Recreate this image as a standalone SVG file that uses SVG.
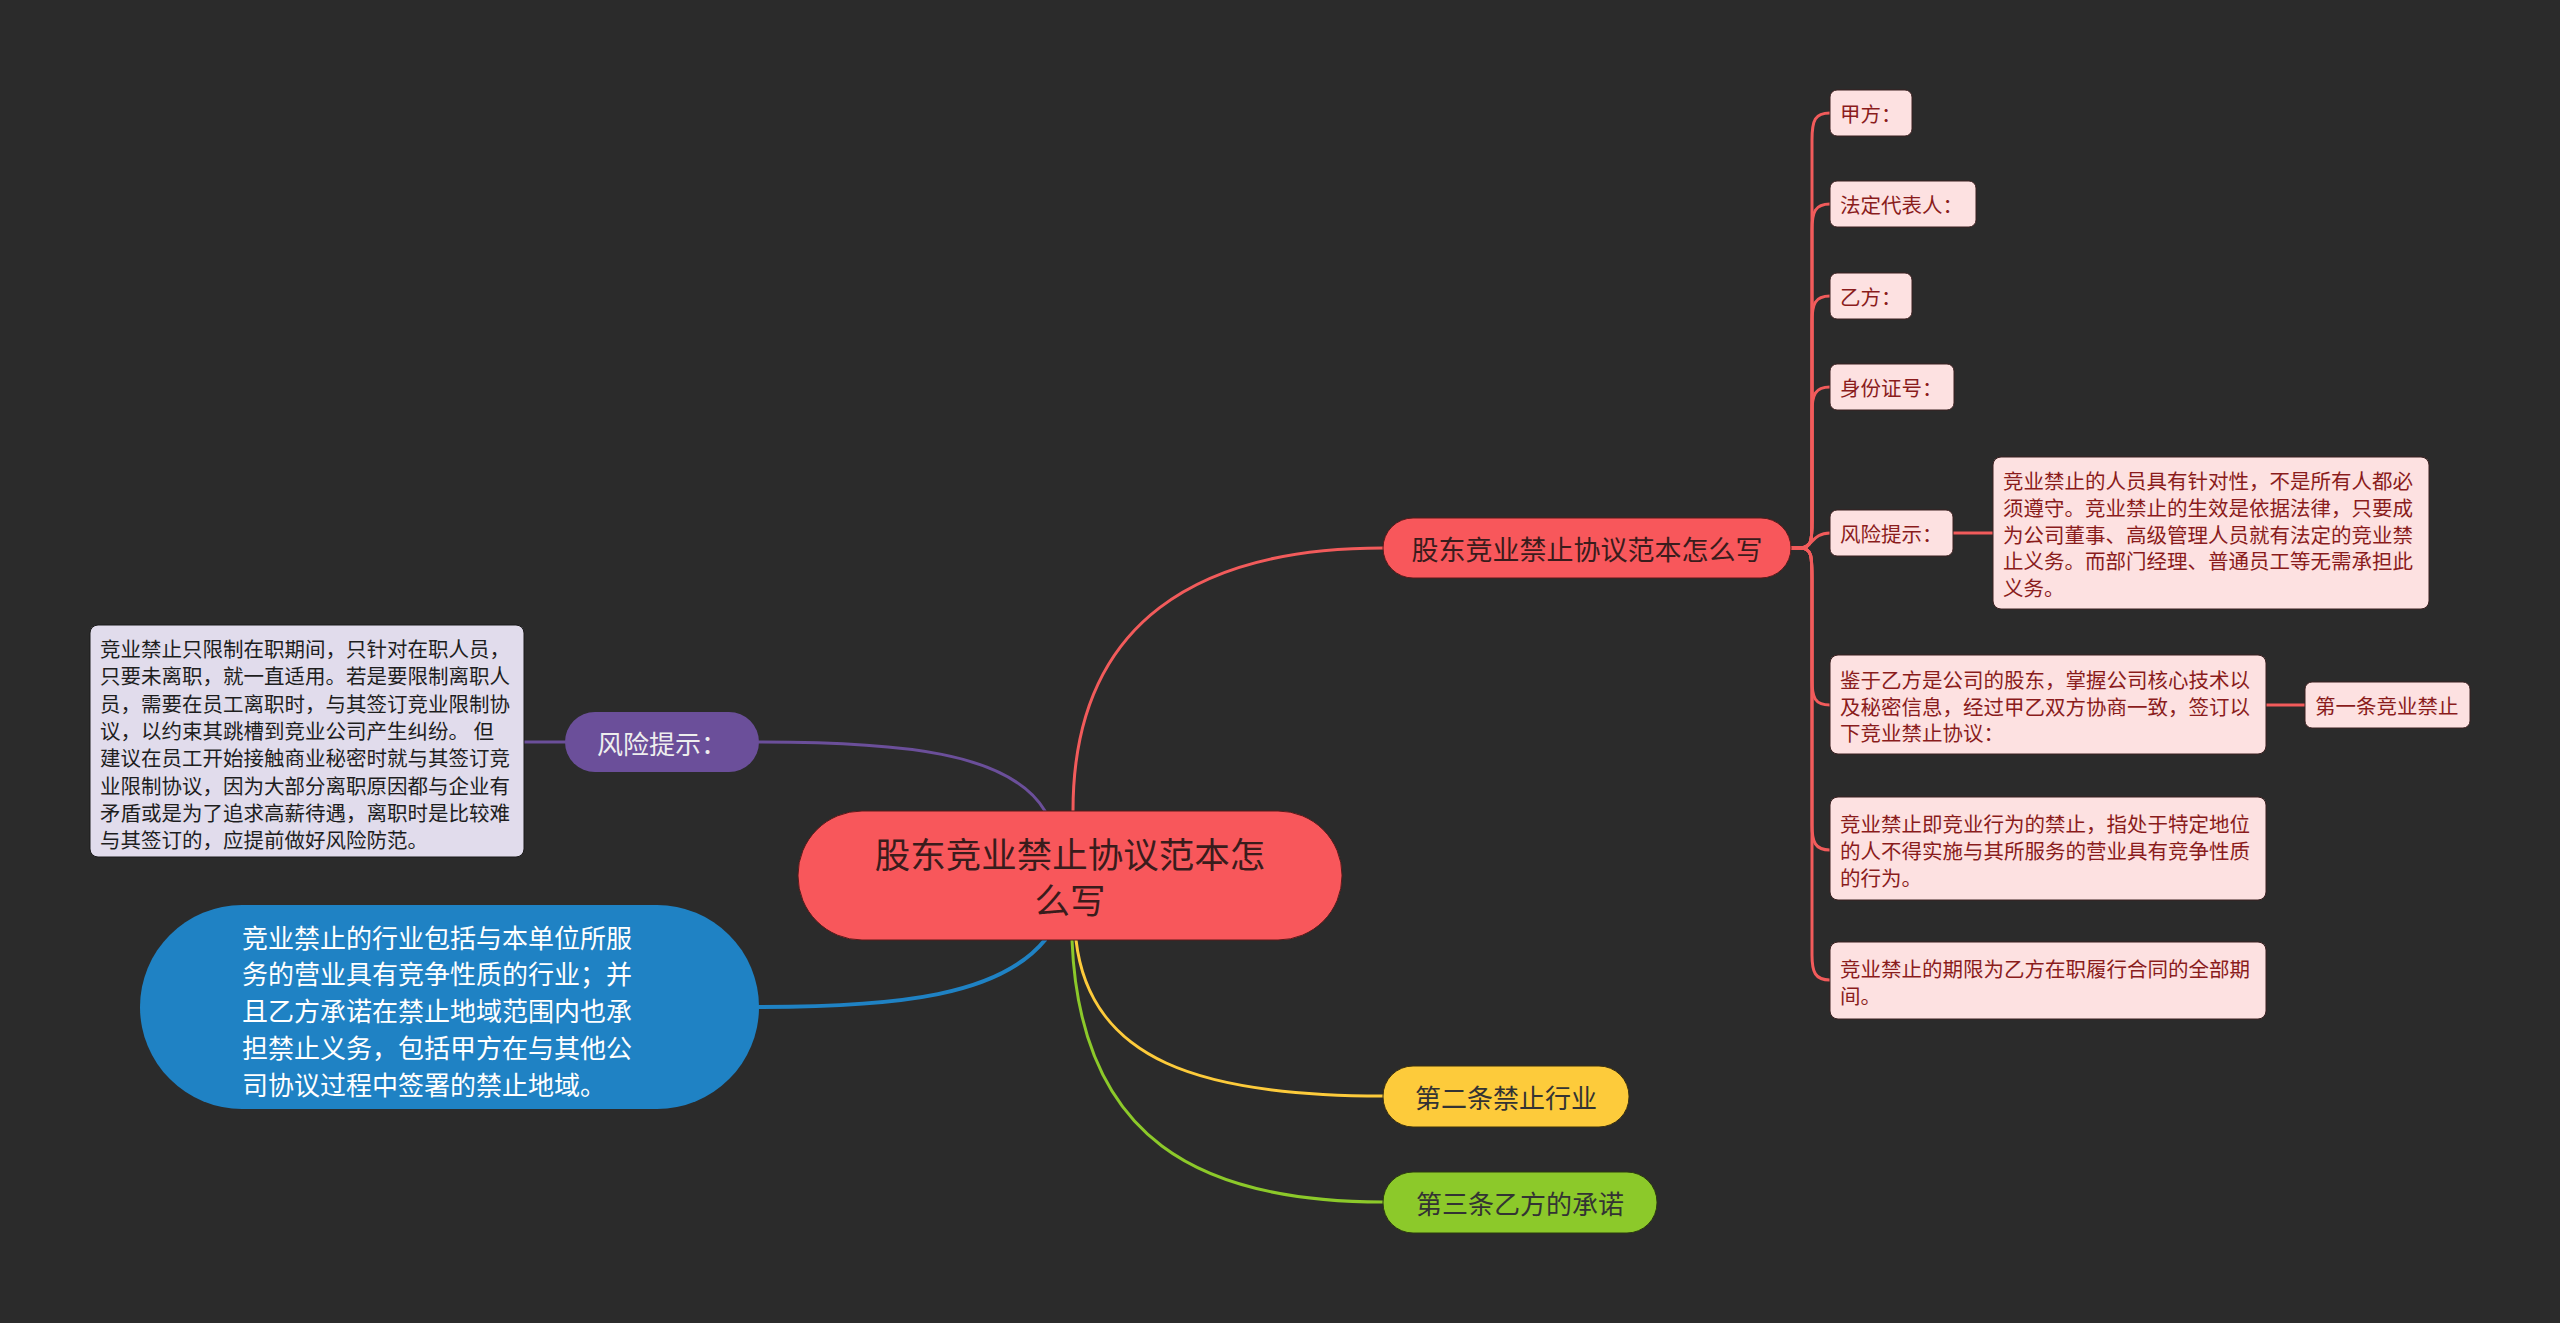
<svg xmlns="http://www.w3.org/2000/svg" width="2560" height="1323" viewBox="0 0 2560 1323">
<style>
text{font-family:"Noto Sans CJK SC","Noto Sans",sans-serif;dominant-baseline:central}
.conn path{fill:none;stroke-linecap:round}
.r{stroke:#f25b5b;stroke-width:3}
.pk rect{fill:#fde1e1;stroke:#3a2020;stroke-width:1}
.pk text{fill:#8a1c1c;font-size:20.5px}
.big{font-size:26px}
</style>
<rect width="2560" height="1323" fill="#2b2b2b"/>
<g id="connectors" class="conn">
<path d="M1073,811 C1073,620 1200,548 1383,548" stroke="#f25b5b" stroke-width="3"/>
<path d="M759,742 C900,742 1010,752 1045,811" stroke="#6b4f9a" stroke-width="3"/>
<path d="M565,742 H524" stroke="#6b4f9a" stroke-width="3"/>
<path d="M1045,940 C1000,995 900,1007 759,1007" stroke="#1f82c4" stroke-width="4"/>
<path d="M1076,940 C1090,1060 1200,1096 1383,1096" stroke="#fdcb3b" stroke-width="3"/>
<path d="M1072,940 C1080,1140 1200,1202 1383,1202" stroke="#8cc92a" stroke-width="3"/>
<path class="r" d="M1791,548 H1800 C1812,548 1812,540 1812,520 V140 C1812,120 1815,113 1830,113"/>
<path class="r" d="M1791,548 H1800 C1812,548 1812,540 1812,520 V230 C1812,212 1815,204 1830,204"/>
<path class="r" d="M1791,548 H1800 C1812,548 1812,540 1812,520 V322 C1812,304 1815,296 1830,296"/>
<path class="r" d="M1791,548 H1800 C1812,548 1812,540 1812,520 V412 C1812,395 1815,387 1830,387"/>
<path class="r" d="M1791,548 H1800 C1812,548 1812,533 1830,533"/>
<path class="r" d="M1791,548 H1800 C1812,548 1812,556 1812,580 V680 C1812,698 1815,705 1830,705"/>
<path class="r" d="M1791,548 H1800 C1812,548 1812,556 1812,580 V825 C1812,842 1815,850 1830,850"/>
<path class="r" d="M1791,548 H1800 C1812,548 1812,556 1812,580 V955 C1812,972 1815,980 1830,980"/>
<path class="r" d="M1953,533 H1993"/>
<path class="r" d="M2266,705 H2305"/>
</g>
<g id="root">
<rect x="798" y="811" width="544" height="129" rx="64" fill="#f8575b" stroke="#5a1a1a" stroke-width="1"/>
<text x="1070" y="852" text-anchor="middle" font-size="35.5" fill="#3a1c1c">股东竞业禁止协议范本怎</text>
<text x="1070" y="898" text-anchor="middle" font-size="35.5" fill="#3a1c1c">么写</text>
</g>
<g id="branch-main">
<rect x="1383" y="518" width="408" height="60" rx="30" fill="#f8575b" stroke="#5a1a1a" stroke-width="1"/>
<text x="1587" y="548" text-anchor="middle" font-size="27" fill="#3a1c1c">股东竞业禁止协议范本怎么写</text>
</g>
<g id="branch-risk">
<rect x="565" y="712" width="194" height="60" rx="30" fill="#6b4f9a"/>
<text x="662" y="742" text-anchor="middle" class="big" fill="#eeeeee">风险提示：</text>
</g>
<g id="risk-left-text">
<rect x="90" y="625" width="434" height="232" rx="8" fill="#e1dcec" stroke="#1a1a1a" stroke-width="1"/>
<g font-size="20.5" fill="#1e1e1e">
<text x="100" y="648">竞业禁止只限制在职期间，只针对在职人员，</text>
<text x="100" y="675.3">只要未离职，就一直适用。若是要限制离职人</text>
<text x="100" y="702.6">员，需要在员工离职时，与其签订竞业限制协</text>
<text x="100" y="729.9">议，以约束其跳槽到竞业公司产生纠纷。 但</text>
<text x="100" y="757.2">建议在员工开始接触商业秘密时就与其签订竞</text>
<text x="100" y="784.5">业限制协议，因为大部分离职原因都与企业有</text>
<text x="100" y="811.8">矛盾或是为了追求高薪待遇，离职时是比较难</text>
<text x="100" y="839.1">与其签订的，应提前做好风险防范。</text>
</g>
</g>
<g id="branch-industry">
<rect x="140" y="905" width="619" height="204" rx="102" fill="#1f82c4"/>
<g font-size="26" fill="#ffffff">
<text x="242" y="936">竞业禁止的行业包括与本单位所服</text>
<text x="242" y="972.8">务的营业具有竞争性质的行业；并</text>
<text x="242" y="1009.6">且乙方承诺在禁止地域范围内也承</text>
<text x="242" y="1046.4">担禁止义务，包括甲方在与其他公</text>
<text x="242" y="1083.2">司协议过程中签署的禁止地域。</text>
</g>
</g>
<g id="branch-second">
<rect x="1383" y="1066" width="246" height="61" rx="30" fill="#fdcb3b" stroke="#3a3010" stroke-width="1"/>
<text x="1506" y="1096" text-anchor="middle" class="big" fill="#333333">第二条禁止行业</text>
</g>
<g id="branch-third">
<rect x="1383" y="1172" width="274" height="61" rx="30" fill="#8cc92a" stroke="#2a3a10" stroke-width="1"/>
<text x="1520" y="1202" text-anchor="middle" class="big" fill="#333333">第三条乙方的承诺</text>
</g>
<g id="n-jiafang" class="pk">
<rect x="1830" y="90" width="82" height="46" rx="7"/>
<text x="1840" y="113">甲方：</text>
</g>
<g id="n-fading" class="pk">
<rect x="1830" y="181" width="146" height="46" rx="7"/>
<text x="1840" y="204">法定代表人：</text>
</g>
<g id="n-yifang" class="pk">
<rect x="1830" y="273" width="82" height="46" rx="7"/>
<text x="1840" y="296">乙方：</text>
</g>
<g id="n-shenfen" class="pk">
<rect x="1830" y="364" width="124" height="46" rx="7"/>
<text x="1840" y="387">身份证号：</text>
</g>
<g id="n-risk2" class="pk">
<rect x="1830" y="510" width="123" height="46" rx="7"/>
<text x="1840" y="533">风险提示：</text>
</g>
<g id="n-risk2-text" class="pk">
<rect x="1993" y="457" width="436" height="152" rx="8"/>
<text x="2003" y="480">竞业禁止的人员具有针对性，不是所有人都必</text>
<text x="2003" y="506.8">须遵守。竞业禁止的生效是依据法律，只要成</text>
<text x="2003" y="533.6">为公司董事、高级管理人员就有法定的竞业禁</text>
<text x="2003" y="560.4">止义务。而部门经理、普通员工等无需承担此</text>
<text x="2003" y="587.2">义务。</text>
</g>
<g id="n-jianyu" class="pk">
<rect x="1830" y="655" width="436" height="99" rx="8"/>
<text x="1840" y="679">鉴于乙方是公司的股东，掌握公司核心技术以</text>
<text x="1840" y="705.5">及秘密信息，经过甲乙双方协商一致，签订以</text>
<text x="1840" y="732">下竞业禁止协议：</text>
</g>
<g id="n-first" class="pk">
<rect x="2305" y="682" width="165" height="46" rx="7"/>
<text x="2315" y="705">第一条竞业禁止</text>
</g>
<g id="n-define" class="pk">
<rect x="1830" y="797" width="436" height="103" rx="8"/>
<text x="1840" y="823">竞业禁止即竞业行为的禁止，指处于特定地位</text>
<text x="1840" y="850">的人不得实施与其所服务的营业具有竞争性质</text>
<text x="1840" y="877">的行为。</text>
</g>
<g id="n-period" class="pk">
<rect x="1830" y="942" width="436" height="77" rx="8"/>
<text x="1840" y="968">竞业禁止的期限为乙方在职履行合同的全部期</text>
<text x="1840" y="995">间。</text>
</g>
</svg>
